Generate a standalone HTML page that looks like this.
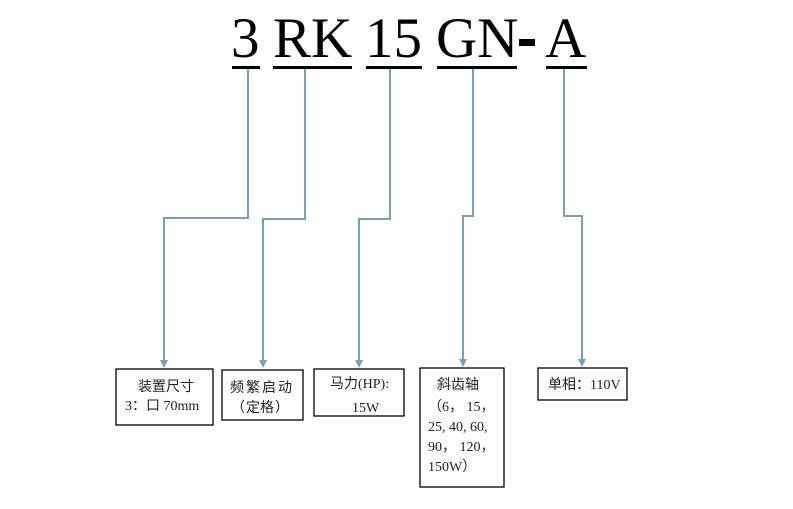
<!DOCTYPE html>
<html>
<head>
<meta charset="utf-8">
<style>
  html,body{margin:0;padding:0;background:#fff;}
  svg{display:block;}
  .t{font-family:"Liberation Serif","Noto Sans CJK SC",serif;fill:#000;}
  .s{font-family:"Liberation Serif","Noto Sans CJK SC",serif;font-size:14px;fill:#222;}
</style>
</head>
<body>
<svg width="793" height="509" viewBox="0 0 793 509" xmlns="http://www.w3.org/2000/svg">
  <rect x="0" y="0" width="793" height="509" fill="#fff"/>

  <!-- Title -->
  <text class="t" x="231" y="57" font-size="57">3</text>
  <text class="t" x="273" y="57" font-size="57">RK</text>
  <text class="t" x="365" y="57" font-size="57">15</text>
  <text class="t" x="436" y="57" font-size="57">GN</text>
  <rect x="519" y="39" width="16" height="7" fill="#000"/>
  <text class="t" x="545" y="57" font-size="57">A</text>

  <!-- Underlines -->
  <g stroke="#000" stroke-width="3">
    <line x1="232" y1="67.5" x2="260" y2="67.5"/>
    <line x1="273" y1="67.5" x2="352" y2="67.5"/>
    <line x1="366" y1="67.5" x2="422" y2="67.5"/>
    <line x1="437" y1="67.5" x2="517" y2="67.5"/>
    <line x1="546" y1="67.5" x2="587" y2="67.5"/>
  </g>

  <!-- Connectors -->
  <g stroke="#7b9cba" stroke-width="2" fill="none">
    <polyline points="248,69 248,218 164,218 164,362"/>
    <polyline points="305,69 305,219 263,219 263,362"/>
    <polyline points="390,69 390,219 359,219 359,362"/>
    <polyline points="473,69 473,216 463,216 463,361"/>
    <polyline points="564,69 564,216 582,216 582,361"/>
  </g>
  <g fill="#7b9cba">
    <polygon points="160,360 168,360 164,368"/>
    <polygon points="259,360 267,360 263,368"/>
    <polygon points="355,360 363,360 359,368"/>
    <polygon points="459,359 467,359 463,367"/>
    <polygon points="578,359 586,359 582,367"/>
  </g>

  <!-- Boxes -->
  <g fill="#fff" stroke="#000" stroke-width="1.3">
    <rect x="116" y="369" width="97" height="56"/>
    <rect x="222" y="370" width="81" height="50"/>
    <rect x="314" y="369" width="90" height="47"/>
    <rect x="420" y="368" width="84" height="119"/>
    <rect x="538" y="368" width="89" height="32"/>
  </g>

  <!-- Box 1 -->
  <text class="s" x="138" y="391">装置尺寸</text>
  <text class="s" x="125" y="410">3：口 70mm</text>

  <!-- Box 2 -->
  <text class="s" x="230" y="392" letter-spacing="2">频繁启动</text>
  <text class="s" x="231" y="412">（</text>
  <text class="s" x="246" y="412">定格</text>
  <text class="s" x="275" y="412">）</text>

  <!-- Box 3 -->
  <text class="s" x="330" y="388">马力(HP):</text>
  <text class="s" x="352" y="412">15W</text>

  <!-- Box 4 -->
  <text class="s" x="437" y="389">斜齿轴</text>
  <text class="s" x="428" y="411">（6， 15，</text>
  <text class="s" x="428" y="431">25, 40, 60,</text>
  <text class="s" x="428" y="451">90， 120，</text>
  <text class="s" x="428" y="471">150W）</text>

  <!-- Box 5 -->
  <text class="s" x="548" y="389">单相：110V</text>
</svg>
</body>
</html>
